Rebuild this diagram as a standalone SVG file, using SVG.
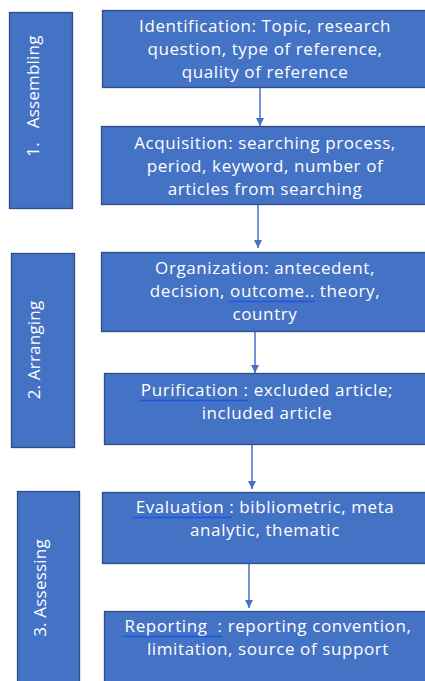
<svg xmlns="http://www.w3.org/2000/svg" width="425" height="681" viewBox="0 0 425 681">
<style>
.box{fill:#4472C4;stroke:#2F4E85;stroke-width:1.3}
.t{fill:#ffffff;font-family:"Open Sans","Noto Sans",sans-serif;font-size:17px;letter-spacing:0.6px;text-anchor:middle}
.v{letter-spacing:0.2px}
.c{stroke:#4472C4;stroke-width:1.5;fill:none}
.ul{stroke:#1A56E8;stroke-width:1.5}
</style>
<defs>
<marker id="ah" viewBox="0 0 10 10" refX="10" refY="5" markerWidth="8" markerHeight="8" markerUnits="userSpaceOnUse" orient="auto">
<path d="M0,0 L10,5 L0,10 z" fill="#4472C4"/>
</marker>
</defs>
<rect width="425" height="681" fill="#ffffff"/>
<g id="stage1">
<rect class="box" x="9.5" y="12.5" width="63" height="196"/>
<text class="t v" transform="translate(39,96) rotate(-90)" xml:space="preserve">1.   Assembling</text>
</g>
<g id="stage2">
<rect class="box" x="11.5" y="253.5" width="63" height="194"/>
<text class="t v" transform="translate(40,350) rotate(-90)">2. Arranging</text>
</g>
<g id="stage3">
<rect class="box" x="17.5" y="491.5" width="62" height="200"/>
<text class="t v" transform="translate(46,588) rotate(-90)">3. Assessing</text>
</g>
<g id="identification">
<rect class="box" x="102.5" y="10.5" width="330" height="77"/>
<text class="t" x="265" y="32">Identification: Topic, research</text>
<text class="t" x="265" y="55">question, type of reference,</text>
<text class="t" x="265" y="78">quality of reference</text>
</g>
<g id="acquisition">
<rect class="box" x="101.5" y="126.5" width="330" height="78"/>
<text class="t" x="265" y="149">Acquisition: searching process,</text>
<text class="t" x="265" y="172">period, keyword, number of</text>
<text class="t" x="265" y="195">articles from searching</text>
</g>
<g id="organization">
<rect class="box" x="101.5" y="252.5" width="330" height="79"/>
<text class="t" x="265" y="274">Organization: antecedent,</text>
<text class="t" x="265" y="297">decision, outcome.. theory,</text>
<text class="t" x="265" y="320">country</text>
<line class="ul" x1="229" y1="301.5" x2="315" y2="301.5"/>
</g>
<g id="purification">
<rect class="box" x="104.5" y="373.5" width="330" height="71"/>
<text class="t" x="267" y="396">Purification : excluded article;</text>
<text class="t" x="267" y="419">included article</text>
<line class="ul" x1="139" y1="400.5" x2="248" y2="400.5"/>
</g>
<g id="evaluation">
<rect class="box" x="102.5" y="492.5" width="330" height="71"/>
<text class="t" x="265" y="513">Evaluation : bibliometric, meta</text>
<text class="t" x="265" y="536">analytic, thematic</text>
<line class="ul" x1="133" y1="517.5" x2="232" y2="517.5"/>
</g>
<g id="reporting">
<rect class="box" x="104.5" y="611.5" width="330" height="80"/>
<text class="t" x="268" y="632" xml:space="preserve">Reporting  : reporting convention,</text>
<text class="t" x="268" y="655">limitation, source of support</text>
<line class="ul" x1="123" y1="636.5" x2="222" y2="636.5"/>
</g>
<g id="connectors">
<line class="c" x1="260" y1="88" x2="260" y2="126" marker-end="url(#ah)"/>
<line class="c" x1="258" y1="205" x2="258" y2="248" marker-end="url(#ah)"/>
<line class="c" x1="255" y1="332" x2="255" y2="373" marker-end="url(#ah)"/>
<line class="c" x1="252" y1="445" x2="252" y2="489" marker-end="url(#ah)"/>
<line class="c" x1="249" y1="564" x2="249" y2="608" marker-end="url(#ah)"/>
</g>
</svg>
